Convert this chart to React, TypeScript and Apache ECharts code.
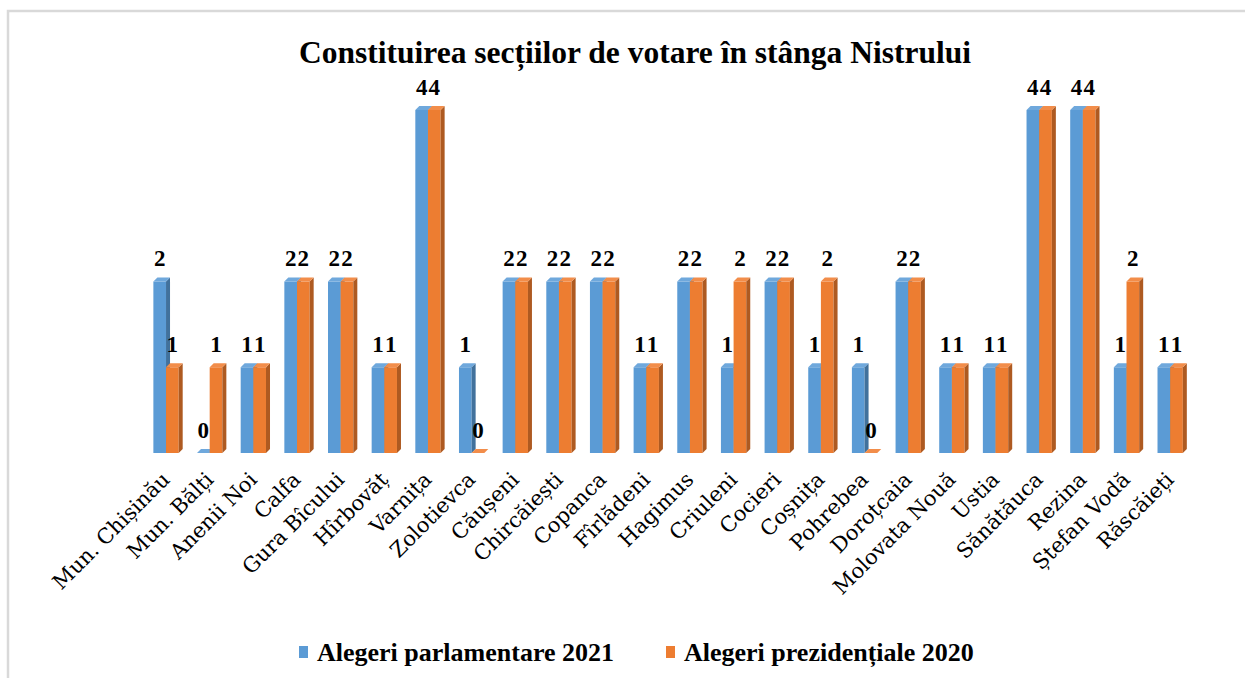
import React, { useEffect, useRef } from "react";
import * as echarts from "echarts";

const categories = [
  "Mun. Chișinău", "Mun. Bălți", "Anenii Noi", "Calfa", "Gura Bîcului", "Hîrbovăț",
  "Varnița", "Zolotievca", "Căușeni", "Chircăiești", "Copanca", "Fîrlădeni",
  "Hagimus", "Criuleni", "Cocieri", "Coșnița", "Pohrebea", "Doroțcaia",
  "Molovata Nouă", "Ustia", "Sănătăuca", "Rezina", "Ștefan Vodă", "Răscăieți",
];
const parlamentare2021 = [2, 0, 1, 2, 2, 1, 4, 1, 2, 2, 2, 1, 2, 1, 2, 1, 1, 2, 1, 1, 4, 4, 1, 1];
const prezidentiale2020 = [1, 1, 1, 2, 2, 1, 4, 0, 2, 2, 2, 1, 2, 2, 2, 2, 0, 2, 1, 1, 4, 4, 2, 1];
const seriesNames = ["Alegeri parlamentare 2021", "Alegeri prezidențiale 2020"];

const palettes = [
  { front: "#5b9bd5", side: "#41719c", top: "#6fa8dc" },
  { front: "#ed7d31", side: "#ae5a21", top: "#f28d4a" },
];

const SERIF = "'Liberation Serif', 'DejaVu Serif', serif";
const WIDE_SERIF = "'DejaVu Serif', 'Liberation Serif', serif";

function make3DSeries(name: string, values: number[], si: number) {
  const pal = palettes[si];
  return {
    type: "custom",
    name,
    data: values.map((v, i) => [i, v]),
    encode: { x: 0, y: 1 },
    itemStyle: { color: pal.front },
    renderItem: (params: any, api: any) => {
      const idx = api.value(0);
      const v = api.value(1);
      const base = api.coord([idx, 0]);
      const top = api.coord([idx, v]);
      const band = api.size([1, 0])[0];
      const w = band * 0.29;
      const d = 4;
      const x0 = si === 0 ? base[0] - w : base[0];
      const x1 = x0 + w;
      const yt = top[1];
      const yb = base[1];
      const children: any[] = [];
      if (yb - yt > 0.5) {
        children.push({
          type: "rect",
          shape: { x: x0, y: yt, width: w, height: yb - yt },
          style: { fill: pal.front },
        });
        children.push({
          type: "polygon",
          shape: { points: [[x1, yt], [x1 + d, yt - d], [x1 + d, yb - d], [x1, yb]] },
          style: { fill: pal.side },
        });
      }
      children.push({
        type: "polygon",
        shape: { points: [[x0, yt], [x0 + d, yt - d], [x1 + d, yt - d], [x1, yt]] },
        style: { fill: pal.top },
      });
      children.push({
        type: "text",
        style: {
          text: String(v),
          x: x0 + w / 2,
          y: yt - 23,
          align: "center",
          verticalAlign: "middle",
          font: `bold 23px ${SERIF}`,
          fill: "#000",
        },
        z2: 10,
      });
      return { type: "group", children };
    },
  };
}

export default function App() {
  const ref = useRef<HTMLDivElement>(null);
  useEffect(() => {
    document.body.style.margin = "0";
    const chart = echarts.init(ref.current!, null, { renderer: "svg" });
    chart.setOption({
      animation: false,
      backgroundColor: "#ffffff",
      title: {
        text: "Constituirea secțiilor de votare în stânga Nistrului",
        left: 630,
        textAlign: "center",
        top: 31,
        textStyle: { fontFamily: SERIF, fontWeight: "bold", fontSize: 31.5, color: "#000" },
      },
      legend: {
        left: 294,
        top: 634,
        itemWidth: 9,
        itemHeight: 12,
        itemGap: 52,
        icon: "rect",
        data: seriesNames,
        textStyle: {
          fontFamily: SERIF,
          fontWeight: "bold",
          fontSize: 26,
          color: "#000",
          padding: [0, 0, 0, 4],
        },
      },
      grid: { left: 144.2, right: 53, top: 110, bottom: 225, containLabel: false },
      xAxis: {
        type: "category",
        data: categories,
        axisLine: { show: false },
        axisTick: { show: false },
        axisLabel: {
          interval: 0,
          rotate: 45,
          margin: 23,
          fontFamily: WIDE_SERIF,
          fontSize: 21,
          color: "#000",
        },
      },
      yAxis: { type: "value", min: 0, max: 4, show: false, splitLine: { show: false } },
      graphic: [
        {
          type: "rect",
          shape: { x: 8, y: 11, width: 1400, height: 800 },
          style: { fill: "none", stroke: "#d9d9d9", lineWidth: 2.5 },
          silent: true,
        },
      ],
      series: [
        make3DSeries(seriesNames[0], parlamentare2021, 0),
        make3DSeries(seriesNames[1], prezidentiale2020, 1),
      ],
    });
    return () => chart.dispose();
  }, []);
  return <div ref={ref} style={{ width: 1245, height: 678 }} />;
}
